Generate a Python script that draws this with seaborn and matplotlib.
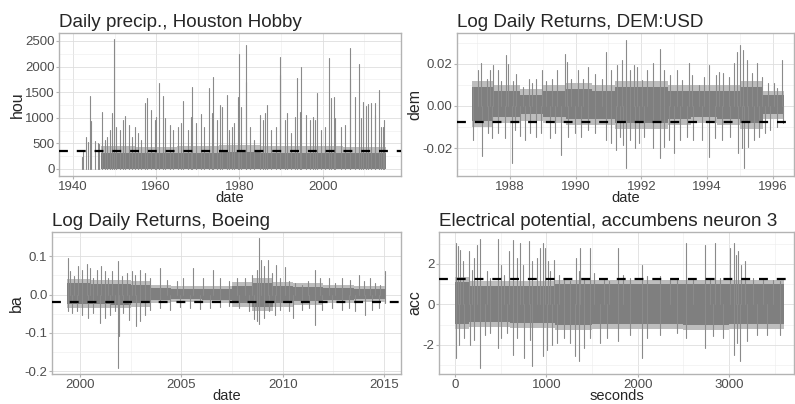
import numpy as np
import pandas as pd
import matplotlib
matplotlib.use("Agg")
import matplotlib.pyplot as plt
import matplotlib.ticker as mticker
import seaborn as sns

# ---------------- Houston Hobby daily precipitation ----------------
# spike tops (year, value)
hou_year = [1942.2, 1942.4, 1943.2, 1943.6, 1944.2, 1944.4, 1945.2, 1945.9, 1946.2, 1947.05,
            1947.6, 1948.2, 1948.8, 1949.4, 1949.9, 1950.4, 1951.3, 1952.0, 1952.4, 1953.4,
            1954.3, 1955.0, 1955.6, 1956.4, 1957.4, 1957.8, 1958.8, 1959.6, 1960.0, 1960.7,
            1961.6, 1962.2, 1963.2, 1964.0, 1965.2, 1966.0, 1966.5, 1967.6, 1968.4, 1968.6,
            1969.6, 1970.7, 1971.6, 1972.6, 1973.3, 1973.7, 1974.7, 1975.4, 1975.7, 1976.9,
            1977.4, 1978.2, 1978.8, 1979.6, 1979.8, 1980.5, 1981.5, 1981.7, 1982.5, 1983.5,
            1984.9, 1985.7, 1986.1, 1986.6, 1987.7, 1988.9, 1989.7, 1989.8, 1990.9, 1991.5,
            1992.3, 1993.3, 1993.9, 1994.5, 1994.9, 1996.1, 1996.9, 1997.7, 1998.2, 1998.7,
            1999.7, 2000.5, 2001.5, 2002.1, 2002.7, 2003.0, 2004.4, 2005.3, 2006.5, 2006.6,
            2007.7, 2008.7, 2009.2, 2009.7, 2010.5, 2011.0, 2011.7, 2012.5, 2012.6, 2013.5,
            2014.1, 2014.5, 2014.7]
hou_mm = [240, 340, 620, 520, 1430, 930, 550, 500, 480, 1107,
          566, 631, 762, 1090, 2530, 827, 762, 957, 1040, 859,
          630, 827, 700, 566, 1290, 1380, 1152, 957, 1020, 1673,
          1430, 1000, 859, 760, 827, 890, 1328, 762, 1020, 1608,
          890, 1068, 827, 1576, 1100, 1790, 957, 1250, 1220, 1445,
          762, 827, 890, 1400, 2246, 1217, 2421, 1700, 827, 566,
          1057, 957, 1084, 1240, 762, 827, 2180, 1840, 957, 1084,
          700, 1020, 1783, 1117, 1998, 1057, 957, 1020, 957, 1490,
          762, 827, 2162, 1380, 1400, 1000, 827, 859, 2370, 1760,
          1400, 2050, 1000, 1300, 1230, 1270, 1280, 1057, 1288, 1543,
          827, 820, 957]
hou_edges = [1946.7, 1955, 1965, 1975, 1985, 1995, 2005, 2015.3]
hou_core = [320, 310, 320, 330, 320, 320, 310]
hou_fringe = [450, 430, 450, 460, 450, 440, 430]
hou_ref = 360

# ---------------- DEM:USD log daily returns ----------------
dem_up_year = [1986.87, 1987.03, 1987.12, 1987.29, 1987.39, 1987.49, 1987.64, 1987.74, 1987.88, 1987.95,
               1988.10, 1988.20, 1988.40, 1988.57, 1988.67, 1988.81, 1988.98, 1989.11, 1989.27, 1989.42,
               1989.67, 1989.75, 1989.87, 1990.08, 1990.23, 1990.38, 1990.58, 1990.79, 1990.92, 1991.09,
               1991.25, 1991.40, 1991.53, 1991.66, 1991.77, 1991.87, 1992.02, 1992.17, 1992.37, 1992.56,
               1992.68, 1992.88, 1993.08, 1993.24, 1993.44, 1993.54, 1993.75, 1993.90, 1994.07, 1994.27,
               1994.37, 1994.50, 1994.66, 1994.81, 1994.91, 1995.02, 1995.11, 1995.21, 1995.37, 1995.52,
               1995.67, 1995.87, 1996.03, 1996.13, 1996.28]
dem_up = [0.0092, 0.0171, 0.0202, 0.0130, 0.0170, 0.0194, 0.0170, 0.0120, 0.0242, 0.0200,
          0.0120, 0.0150, 0.0090, 0.0130, 0.0110, 0.0130, 0.0170, 0.0120, 0.0130, 0.0170,
          0.0247, 0.0210, 0.0130, 0.0170, 0.0130, 0.0185, 0.0150, 0.0130, 0.0257, 0.0170,
          0.0195, 0.0220, 0.0313, 0.0171, 0.0194, 0.0186, 0.0123, 0.0171, 0.0202, 0.0269,
          0.0171, 0.0147, 0.0171, 0.0123, 0.0202, 0.0147, 0.0100, 0.0139, 0.0194, 0.0147,
          0.0163, 0.0155, 0.0139, 0.0202, 0.0257, 0.0289, 0.0265, 0.0218, 0.0155, 0.0202,
          0.0139, 0.0107, 0.0107, 0.0084, 0.0218]
dem_dn_year = [1986.88, 1987.14, 1987.34, 1987.46, 1987.65, 1987.85, 1988.05, 1988.15, 1988.30, 1988.46,
               1988.61, 1988.81, 1988.96, 1989.22, 1989.37, 1989.57, 1989.78, 1989.98, 1990.18, 1990.39,
               1990.59, 1990.94, 1991.09, 1991.22, 1991.35, 1991.45, 1991.53, 1991.66, 1991.82, 1991.92,
               1992.07, 1992.37, 1992.58, 1992.68, 1992.83, 1993.01, 1993.18, 1993.39, 1993.59, 1993.85,
               1994.07, 1994.25, 1994.45, 1994.71, 1994.96, 1995.08, 1995.14, 1995.24, 1995.42, 1995.57,
               1995.77, 1995.92, 1996.13, 1996.33]
dem_dn = [-0.0161, -0.0237, -0.0130, -0.0154, -0.0130, -0.0154, -0.0269, -0.0114, -0.0142, -0.0161,
          -0.0130, -0.0145, -0.0130, -0.0154, -0.0130, -0.0232, -0.0145, -0.0130, -0.0145, -0.0114,
          -0.0130, -0.0161, -0.0177, -0.0209, -0.0145, -0.0185, -0.0295, -0.0161, -0.0201, -0.0177,
          -0.0145, -0.0201, -0.0248, -0.0193, -0.0161, -0.0224, -0.0161, -0.0145, -0.0161, -0.0161,
          -0.0240, -0.0154, -0.0161, -0.0145, -0.0224, -0.0201, -0.0295, -0.0193, -0.0161, -0.0145,
          -0.0130, -0.0114, -0.0098, -0.0082]
dem_edges = [1986.85, 1987.5, 1988.3, 1989.0, 1989.7, 1990.5, 1991.2, 1992.0, 1992.8, 1993.5,
             1994.3, 1995.0, 1995.7, 1996.34]
dem_core_hi = [0.009, 0.007, 0.005, 0.007, 0.008, 0.007, 0.009, 0.009, 0.007, 0.007, 0.007, 0.009, 0.005]
dem_core_lo = [-0.007, -0.005, -0.004, -0.005, -0.006, -0.006, -0.008, -0.008, -0.006, -0.005, -0.006, -0.008, -0.004]
dem_fr_hi = [0.012, 0.010, 0.008, 0.010, 0.011, 0.010, 0.012, 0.012, 0.010, 0.010, 0.010, 0.012, 0.007]
dem_fr_lo = [-0.010, -0.008, -0.007, -0.008, -0.009, -0.009, -0.011, -0.011, -0.009, -0.008, -0.009, -0.011, -0.006]
dem_ref = -0.0076

# ---------------- Boeing log daily returns ----------------
ba_up_year = [1999.42, 1999.51, 1999.70, 1999.92, 2000.08, 2000.33, 2000.49, 2000.66, 2000.82, 2001.04,
              2001.23, 2001.40, 2001.56, 2001.86, 2002.06, 2002.30, 2002.55, 2002.71, 2002.96, 2003.21,
              2003.45, 2003.95, 2004.28, 2004.77, 2005.10, 2005.59, 2006.09, 2006.58, 2006.91, 2007.33,
              2007.75, 2008.16, 2008.49, 2008.73, 2008.85, 2008.95, 2009.06, 2009.26, 2009.47, 2009.67,
              2009.88, 2010.10, 2010.30, 2010.63, 2010.95, 2011.25, 2011.61, 2011.86, 2012.27, 2012.60,
              2012.93, 2013.34, 2013.75, 2014.00, 2014.32, 2014.57, 2014.82, 2015.03]
ba_up = [0.096, 0.061, 0.048, 0.074, 0.065, 0.080, 0.070, 0.044, 0.065, 0.074,
         0.061, 0.044, 0.061, 0.087, 0.048, 0.057, 0.061, 0.052, 0.065, 0.057,
         0.044, 0.070, 0.039, 0.035, 0.044, 0.070, 0.044, 0.065, 0.044, 0.035,
         0.044, 0.044, 0.052, 0.065, 0.148, 0.091, 0.074, 0.089, 0.057, 0.078,
         0.044, 0.072, 0.035, 0.031, 0.026, 0.035, 0.063, 0.044, 0.044, 0.031,
         0.044, 0.039, 0.052, 0.035, 0.044, 0.031, 0.026, 0.061]
ba_dn_year = [1999.42, 1999.59, 1999.84, 2000.08, 2000.41, 2000.66, 2000.99, 2001.23, 2001.48, 2001.73,
              2001.86, 2001.94, 2002.14, 2002.43, 2002.76, 2002.96, 2003.21, 2003.45, 2003.95, 2004.44,
              2004.93, 2005.43, 2005.92, 2006.41, 2006.91, 2007.33, 2007.83, 2008.32, 2008.57, 2008.73,
              2008.85, 2009.06, 2009.31, 2009.61, 2009.88, 2010.30, 2010.49, 2010.95, 2011.28, 2011.61,
              2011.94, 2012.43, 2012.93, 2013.26, 2013.59, 2014.05, 2014.41, 2014.74, 2015.03]
ba_dn = [-0.043, -0.048, -0.043, -0.052, -0.061, -0.048, -0.074, -0.061, -0.052, -0.043,
         -0.191, -0.109, -0.048, -0.065, -0.083, -0.070, -0.052, -0.039, -0.035, -0.039,
         -0.033, -0.035, -0.037, -0.035, -0.033, -0.030, -0.035, -0.043, -0.063, -0.070,
         -0.078, -0.061, -0.043, -0.052, -0.039, -0.043, -0.061, -0.039, -0.035, -0.080,
         -0.039, -0.035, -0.039, -0.035, -0.043, -0.052, -0.039, -0.035, -0.022]
ba_edges = [1999.37, 2000.5, 2001.5, 2002.5, 2003.5, 2004.5, 2006.0, 2007.5, 2008.5, 2009.5,
            2010.5, 2012.0, 2013.5, 2015.06]
ba_core_hi = [0.030, 0.028, 0.028, 0.025, 0.018, 0.014, 0.015, 0.022, 0.030, 0.022, 0.020, 0.016, 0.014]
ba_core_lo = [-0.025, -0.024, -0.026, -0.022, -0.015, -0.012, -0.013, -0.022, -0.032, -0.022, -0.018, -0.014, -0.012]
ba_fr_hi = [0.040, 0.038, 0.038, 0.035, 0.026, 0.022, 0.023, 0.032, 0.042, 0.032, 0.029, 0.024, 0.022]
ba_fr_lo = [-0.035, -0.034, -0.036, -0.032, -0.023, -0.020, -0.021, -0.032, -0.044, -0.032, -0.027, -0.022, -0.019]
ba_ref = -0.019

# ---------------- accumbens neuron 3 ----------------
acc_up_sec = [15, 30, 59, 88, 150, 186, 204, 241, 277, 350, 387, 467, 504, 533, 588, 635, 679, 716,
              745, 807, 843, 898, 935, 964, 990, 1015, 1044, 1088, 1136, 1190, 1263, 1329, 1355, 1373,
              1409, 1482, 1519, 1629, 1684, 1789, 1844, 1917, 2052, 2099, 2245, 2355, 2428, 2530,
              2610, 2738, 2793, 2848, 2902, 3012, 3056, 3078, 3103, 3129, 3176, 3268, 3377, 3487, 3560]
acc_up = [3.03, 2.87, 2.70, 2.12, 2.62, 1.71, 2.29, 2.94, 3.24, 1.63, 1.30, 3.24, 1.96, 1.46, 2.62,
          3.19, 2.29, 3.03, 1.96, 3.11, 2.12, 2.29, 2.78, 3.03, 2.78, 2.12, 1.63, 2.20, 1.46, 1.30,
          1.13, 2.29, 1.63, 2.78, 1.30, 2.78, 1.55, 1.30, 1.13, 2.78, 1.46, 1.30, 1.96, 1.38, 1.38,
          1.22, 1.30, 3.03, 1.30, 2.94, 1.30, 3.03, 1.30, 2.78, 3.03, 2.45, 2.62, 1.96, 2.12, 1.30,
          1.30, 1.22, 1.13]
acc_dn_sec = [15, 40, 95, 168, 212, 277, 332, 387, 467, 504, 570, 635, 679, 759, 825, 847, 964,
              1008, 1063, 1117, 1190, 1263, 1318, 1355, 1409, 1482, 1592, 1665, 1789, 1917, 2052,
              2099, 2245, 2428, 2530, 2738, 2829, 2939, 3056, 3085, 3121, 3194, 3304, 3414, 3560]
acc_dn = [-2.65, -2.00, -1.66, -2.00, -1.75, -3.15, -1.50, -1.42, -2.16, -1.66, -1.42, -2.49,
          -1.66, -2.65, -1.75, -3.05, -2.57, -2.24, -2.00, -1.91, -1.66, -1.91, -2.57, -2.82,
          -2.16, -1.66, -1.91, -1.66, -1.83, -1.50, -2.65, -1.66, -1.50, -1.42, -1.66, -2.16,
          -1.58, -1.66, -2.49, -1.91, -2.82, -1.83, -1.50, -1.50, -1.50]
acc_edges = [0, 150, 600, 1100, 1500, 2000, 2500, 3000, 3600]
acc_core_hi = [1.10, 0.90, 0.90, 1.00, 1.00, 1.00, 1.00, 1.00]
acc_core_lo = [-0.95, -0.85, -0.90, -1.00, -0.95, -0.95, -1.00, -0.95]
acc_fr_hi = [1.35, 1.15, 1.15, 1.20, 1.20, 1.20, 1.20, 1.20]
acc_fr_lo = [-1.20, -1.10, -1.15, -1.25, -1.20, -1.20, -1.25, -1.20]
acc_ref = 1.25

LINE = "#7f7f7f"
FRINGE = "#bdbdbd"

sns.set_theme(style="white")
plt.rcParams["font.family"] = ["Liberation Sans", "DejaVu Sans"]

W, H = 795, 404
fig = plt.figure(figsize=(W / 100, H / 100), dpi=100)


def make_ax(left, right, top, bottom):
    return fig.add_axes([left / W, 1 - bottom / H, (right - left) / W, (bottom - top) / H])


def draw_spikes(ax, xs, tops, base=0.0):
    n = len(xs)
    df = pd.DataFrame({
        "x": np.repeat(xs, 2),
        "y": np.column_stack([np.full(n, base), tops]).ravel(),
        "seg": np.repeat(np.arange(n), 2),
    })
    sns.lineplot(data=df, x="x", y="y", units="seg", estimator=None, sort=False,
                 color="#8a8a8a", lw=0.8, ax=ax, legend=False, zorder=3)


def draw_band(ax, edges, lo, hi, color):
    lo = list(lo) + [lo[-1]]
    hi = list(hi) + [hi[-1]]
    ax.fill_between(edges, lo, hi, step="post", color=color, lw=0, zorder=2)


def style(ax, title, xlabel, ylabel, xlim, ylim, xmaj, xmin, ymaj, ymin, yfmt, ref):
    ax.axhline(ref, color="black", lw=1.6, ls=(0, (4, 4)), zorder=5)
    ax.set_xlim(xlim)
    ax.set_ylim(ylim)
    ax.xaxis.set_major_locator(mticker.FixedLocator(xmaj))
    ax.xaxis.set_minor_locator(mticker.FixedLocator(xmin))
    ax.yaxis.set_major_locator(mticker.FixedLocator(ymaj))
    ax.yaxis.set_minor_locator(mticker.FixedLocator(ymin))
    ax.xaxis.set_major_formatter(mticker.FuncFormatter(lambda v, p: f"{v:.0f}"))
    ax.yaxis.set_major_formatter(mticker.FuncFormatter(yfmt))
    ax.grid(True, which="major", color="#dedede", lw=0.6)
    ax.grid(True, which="minor", color="#ececec", lw=0.4)
    ax.set_axisbelow(True)
    for s in ax.spines.values():
        s.set_color("#b3b3b3")
        s.set_linewidth(1.0)
    ax.tick_params(which="major", length=2.5, width=0.8, color="#b3b3b3",
                   labelsize=9.5, labelcolor="#4d4d4d", pad=0.8,
                   bottom=True, left=True)
    ax.tick_params(which="minor", length=0)
    ax.set_title(title, loc="left", fontsize=13.6, pad=4)
    ax.set_xlabel(xlabel, fontsize=10.5, labelpad=-0.8)
    ax.set_ylabel(ylabel, fontsize=11.5, labelpad=0)


# Houston
ax1 = make_ax(59, 401, 33, 176)
draw_band(ax1, hou_edges, [0] * len(hou_fringe), hou_fringe, FRINGE)
draw_band(ax1, hou_edges, [0] * len(hou_core), hou_core, LINE)
draw_spikes(ax1, hou_year, hou_mm)
style(ax1, "Daily precip., Houston Hobby", "date", "hou", (1936.63, 2018.85), (-137, 2656),
      [1940, 1960, 1980, 2000], [1950, 1970, 1990, 2010],
      [0, 500, 1000, 1500, 2000, 2500], [250, 750, 1250, 1750, 2250],
      lambda v, p: f"{v:.0f}", hou_ref)

# DEM:USD
ax2 = make_ax(457, 794, 33, 176)
draw_band(ax2, dem_edges, dem_fr_lo, dem_fr_hi, FRINGE)
draw_band(ax2, dem_edges, dem_core_lo, dem_core_hi, LINE)
draw_spikes(ax2, dem_up_year, dem_up)
draw_spikes(ax2, dem_dn_year, dem_dn)
style(ax2, "Log Daily Returns, DEM:USD", "date", "dem", (1986.39, 1996.65), (-0.0332, 0.0346),
      [1988, 1990, 1992, 1994, 1996], [1987, 1989, 1991, 1993, 1995],
      [-0.02, 0.0, 0.02], [-0.03, -0.01, 0.01, 0.03],
      lambda v, p: f"{v:.2f}", dem_ref)

# Boeing
ax3 = make_ax(52, 401, 232, 374)
draw_band(ax3, ba_edges, ba_fr_lo, ba_fr_hi, FRINGE)
draw_band(ax3, ba_edges, ba_core_lo, ba_core_hi, LINE)
draw_spikes(ax3, ba_up_year, ba_up)
draw_spikes(ax3, ba_dn_year, ba_dn)
style(ax3, "Log Daily Returns, Boeing", "date", "ba", (1998.62, 2015.84), (-0.207, 0.163),
      [2000, 2005, 2010, 2015], [2002.5, 2007.5, 2012.5],
      [-0.2, -0.1, 0.0, 0.1], [-0.15, -0.05, 0.05, 0.15],
      lambda v, p: f"{v:.1f}", ba_ref)

# accumbens
ax4 = make_ax(439, 794, 232, 374)
draw_band(ax4, acc_edges, acc_fr_lo, acc_fr_hi, FRINGE)
draw_band(ax4, acc_edges, acc_core_lo, acc_core_hi, LINE)
draw_spikes(ax4, acc_up_sec, acc_up)
draw_spikes(ax4, acc_dn_sec, acc_dn)
style(ax4, "Electrical potential, accumbens neuron 3", "seconds", "acc", (-175, 3713), (-3.44, 3.57),
      [0, 1000, 2000, 3000], [500, 1500, 2500, 3500],
      [-2, 0, 2], [-3, -1, 1, 3],
      lambda v, p: f"{v:.0f}", acc_ref)

fig.savefig("out.png", dpi=100)
